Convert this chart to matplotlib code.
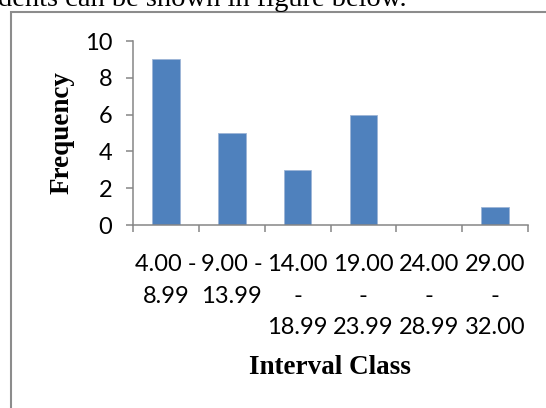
import numpy as np
import matplotlib.pyplot as plt
from matplotlib.patches import Rectangle

# frequency table of the interval classes
classes = ["4.00 -\n8.99", "9.00 -\n13.99", "14.00\n-\n18.99",
           "19.00\n-\n23.99", "24.00\n-\n28.99", "29.00\n-\n32.00"]
freq = [9, 5, 3, 6, 0, 1]
y_ticks = [0, 2, 4, 6, 8, 10]

bar_col = '#4f81bd'
ax_col = '#868686'

fig = plt.figure(figsize=(5.46, 4.08), dpi=100)
W, H = 546.0, 408.0

# bit of the sentence above the figure, cut off by the page
fig.text(-2 / W, 1 - 6.5 / H, "dents can be shown in figure below.",
         family='Liberation Serif', fontsize=20.5, ha='left', va='baseline')

# chart frame (runs past the right and bottom edges)
frame = Rectangle((11 / W, -0.2), 1.5, 1 - 12 / H + 0.2,
                  transform=fig.transFigure, fill=False,
                  edgecolor='#8c8c8c', linewidth=1.5)
fig.patches.append(frame)

ax = fig.add_axes([133 / W, 1 - 225 / H, (528 - 133) / W, (225 - 41) / H])
x = np.arange(len(freq))
ax.bar(x, freq, width=0.42, color=bar_col, edgecolor='#9db5d6', linewidth=0.6,
       zorder=2)

ax.set_xlim(-0.5, len(freq) - 0.5)
ax.set_ylim(0, 10)
ax.set_yticks(y_ticks)
ax.set_yticklabels([str(t) for t in y_ticks], family='Lato', fontsize=17)

# ticks sit on the class boundaries, labels in the middle
ax.set_xticks(np.arange(len(freq) + 1) - 0.5)
ax.set_xticklabels([])
ax.set_xticks(x, minor=True)
ax.set_xticklabels(classes, minor=True, family='Lato', fontsize=17,
                   linespacing=1.62)
ax.tick_params(axis='x', which='minor', length=0, pad=21)
ax.tick_params(axis='both', which='major', direction='out', length=5,
               width=1.1, color=ax_col)
ax.tick_params(axis='y', pad=10)

for s in ['top', 'right']:
    ax.spines[s].set_visible(False)
for s in ['left', 'bottom']:
    ax.spines[s].set_color(ax_col)
    ax.spines[s].set_linewidth(1.1)

fig.text(330 / W, 1 - 368 / H, "Interval Class", family='Liberation Serif',
         fontweight='bold', fontsize=19.5, ha='center', va='center')
fig.text(62 / W, 1 - 133 / H, "Frequency", family='Liberation Serif',
         fontweight='bold', fontsize=19.5, ha='center', va='center',
         rotation=90)

fig.savefig('out.png', dpi=100)
